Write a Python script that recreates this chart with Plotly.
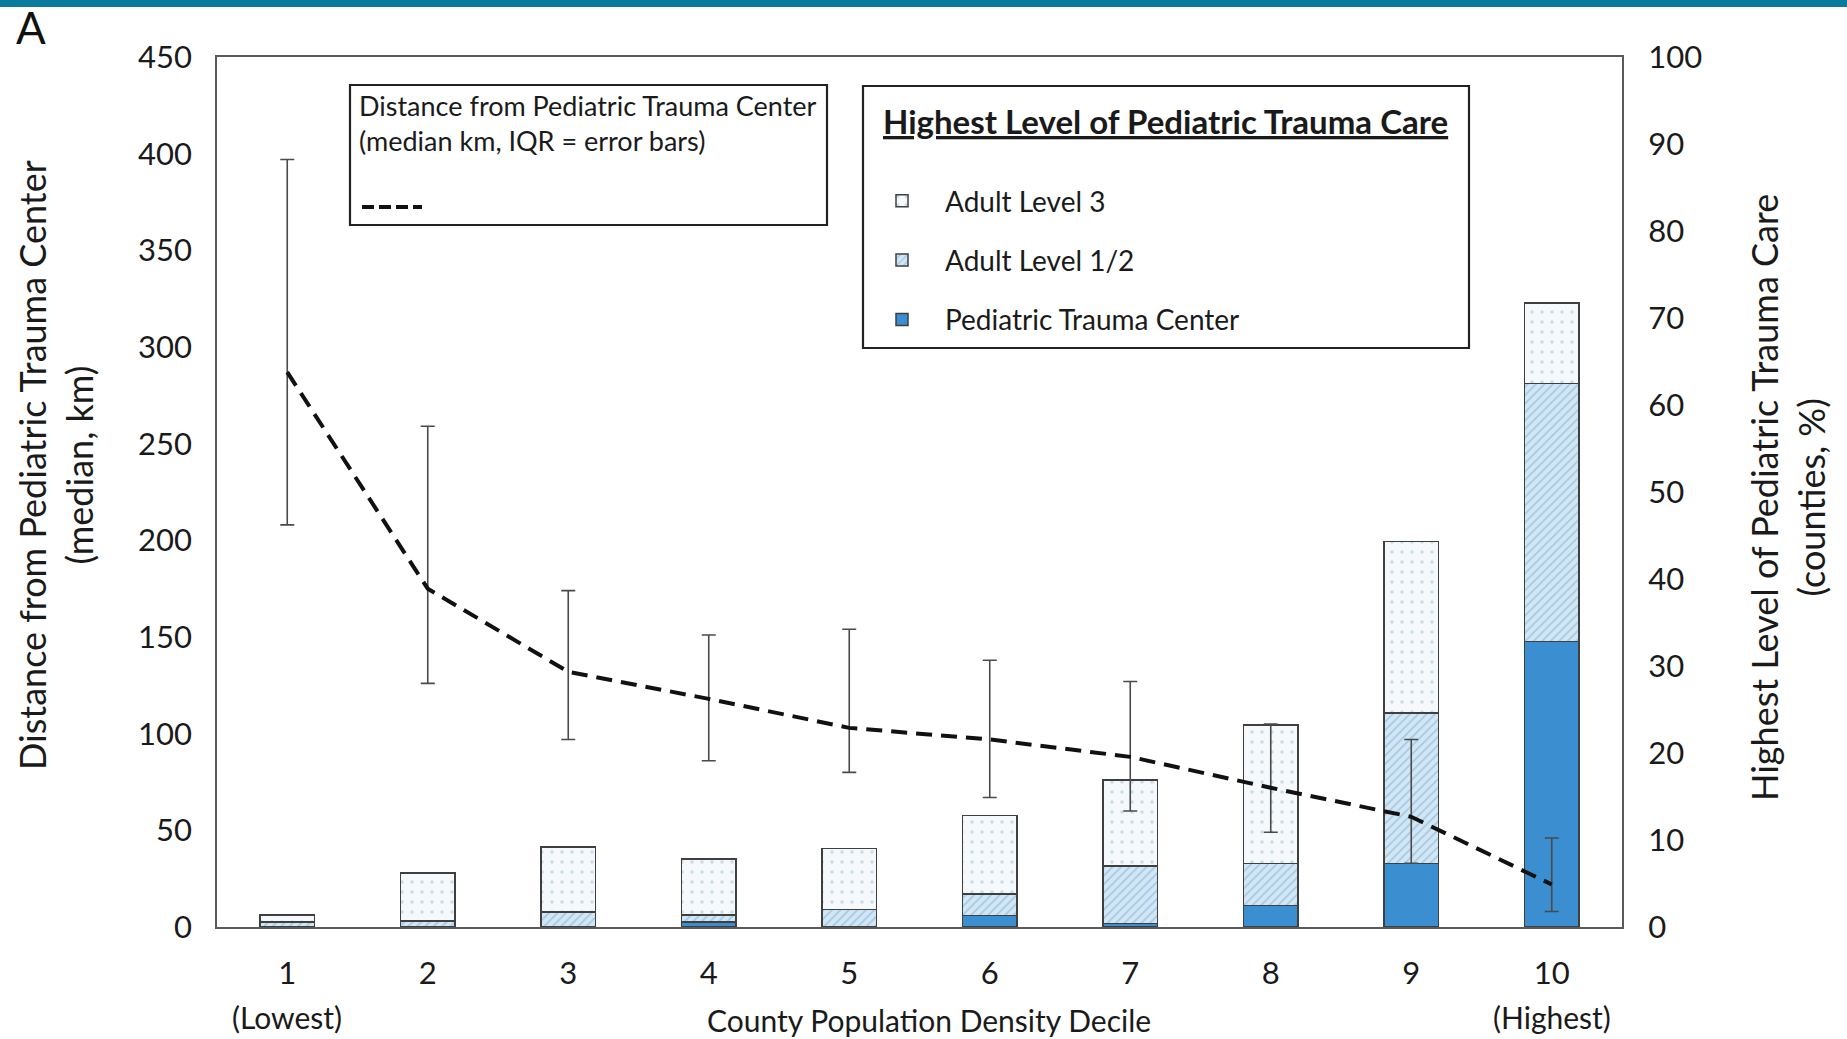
import plotly.graph_objects as go

# County population density deciles
deciles = [1, 2, 3, 4, 5, 6, 7, 8, 9, 10]
tick_labels = ["1", "2", "3", "4", "5", "6", "7", "8", "9", "10"]
end_labels = ["(Lowest)", "(Highest)"]

# Highest level of pediatric trauma care (% of counties)
pediatric_tc = [0.0, 0.0, 0.0, 0.6, 0.0, 1.3, 0.4, 2.5, 7.3, 32.8]
adult_level_12 = [0.6, 0.7, 1.7, 0.8, 2.0, 2.5, 6.6, 4.8, 17.3, 29.7]
adult_level_3 = [0.8, 5.5, 7.5, 6.4, 7.0, 9.0, 9.9, 15.9, 19.7, 9.2]

# Distance from pediatric trauma center (median km with IQR)
dist_median = [287, 175, 132, 118, 103, 97, 88, 72, 57, 22]
dist_q1 = [208, 126, 97, 86, 80, 67, 60, 49, 33, 8]
dist_q3 = [397, 259, 174, 151, 154, 138, 127, 105, 97, 46]

FONT = "Lato"
INK = "#1a1a1a"
EDGE = "#3f3f3f"

W, H = 1847, 1039
L, R, T, B = 217, 225, 57, 112
PW, PH = W - L - R, H - T - B


def px(xp):
    return (xp - L) / PW


def py(yp):
    return (H - B - yp) / PH


fig = go.Figure()

# stacked bars on the right-hand percentage axis
fig.add_trace(go.Bar(
    x=deciles, y=pediatric_tc, name="Pediatric Trauma Center",
    marker=dict(color="#3b8ed0", line=dict(color=EDGE, width=1.5)),
    width=0.39, legendgroup="c", legendrank=3, yaxis="y",
))
fig.add_trace(go.Bar(
    x=deciles, y=adult_level_12, name="Adult Level 1/2",
    marker=dict(color="#cfe3f2", line=dict(color=EDGE, width=1.5),
                pattern=dict(shape="/", bgcolor="#d3e6f4", fgcolor="#76acd6",
                             size=6, solidity=0.3, fillmode="overlay")),
    width=0.39, legendgroup="b", legendrank=2, yaxis="y",
))
fig.add_trace(go.Bar(
    x=deciles, y=adult_level_3, name="Adult Level 3",
    marker=dict(color="#f5f9fc", line=dict(color=EDGE, width=1.5),
                pattern=dict(shape=".", bgcolor="#f5f9fc", fgcolor="#9fbdd3",
                             size=10, solidity=0.1, fillmode="overlay")),
    width=0.39, legendgroup="a", legendrank=1, yaxis="y",
))

# median distance with IQR error bars on the left-hand km axis
err_plus = [q3 - m for q3, m in zip(dist_q3, dist_median)]
err_minus = [m - q1 for q1, m in zip(dist_q1, dist_median)]
fig.add_trace(go.Scatter(
    x=deciles, y=dist_median, mode="lines", yaxis="y2", showlegend=False,
    line=dict(color="#111111", width=4, dash="16px,9px"),
    error_y=dict(type="data", array=err_plus, arrayminus=err_minus,
                 color="#4a4a4a", thickness=1.6, width=7),
))

axis_font = dict(family=FONT, size=31, color=INK)
xtitle_font = dict(family=FONT, size=30, color=INK)

fig.update_layout(
    width=W, height=H,
    margin=dict(l=L, r=R, t=T, b=B),
    paper_bgcolor="white", plot_bgcolor="white",
    barmode="stack",
    xaxis=dict(range=[0.5, 10.5], tickvals=deciles, ticktext=tick_labels,
               tickfont=axis_font, showgrid=False, zeroline=False,
               showline=True, mirror=True, linecolor="#5a5a5a", linewidth=2,
               ticks="", ticklabelstandoff=18),
    yaxis=dict(range=[0, 100], dtick=10, side="right", tickfont=axis_font,
               showgrid=False, zeroline=False, showline=True, mirror=True,
               linecolor="#5a5a5a", linewidth=2, ticks="", ticklabelstandoff=18),
    yaxis2=dict(range=[0, 450], dtick=50, side="left", overlaying="y",
                tickfont=axis_font, showgrid=False, zeroline=False,
                showline=False, ticks="", ticklabelstandoff=24),
    legend=dict(
        x=px(859), y=py(176), xanchor="left", yanchor="top",
        bgcolor="rgba(0,0,0,0)", borderwidth=0,
        font=dict(family=FONT, size=28, color=INK),
        traceorder="grouped", tracegroupgap=20, itemwidth=76,
    ),
    showlegend=True,
)

shapes = [
    # band across the top of the figure
    dict(type="rect", xref="paper", yref="paper", x0=px(0), x1=px(W),
         y0=py(7), y1=py(0), fillcolor="#0a7b9c", line=dict(width=0)),
    # distance key box
    dict(type="rect", xref="paper", yref="paper", x0=px(350), x1=px(827),
         y0=py(225), y1=py(85), line=dict(color="#222222", width=2.2),
         fillcolor="white", layer="below"),
    dict(type="line", xref="paper", yref="paper", x0=px(362), x1=px(422),
         y0=py(207), y1=py(207), line=dict(color="#111111", width=4, dash="12px,5px")),
    # care level key box
    dict(type="rect", xref="paper", yref="paper", x0=px(863), x1=px(1469),
         y0=py(348), y1=py(86), line=dict(color="#222222", width=2.2),
         fillcolor="rgba(0,0,0,0)"),
]
fig.update_layout(shapes=shapes)

text_font = dict(family=FONT, size=27, color=INK)
title_font = dict(family=FONT, size=36, color=INK)
annotations = [
    dict(text="A", x=px(14), y=py(27), xanchor="left", yanchor="middle",
         font=dict(family=FONT, size=44, color="#111111")),
    dict(text="Distance from Pediatric Trauma Center", x=px(357), y=py(106),
         xanchor="left", yanchor="middle", font=text_font),
    dict(text="(median km, IQR = error bars)", x=px(357), y=py(141),
         xanchor="left", yanchor="middle", font=text_font),
    dict(text="Highest Level of Pediatric Trauma Care", x=px(881), y=py(121),
         xanchor="left", yanchor="middle",
         font=dict(family=FONT, size=33, color=INK, weight="bold",
                   lineposition="under")),
    dict(text="Distance from Pediatric Trauma Center<br>(median, km)",
         x=px(55), y=py(465), textangle=-90, xanchor="center", yanchor="middle",
         font=title_font),
    dict(text="Highest Level of Pediatric Trauma Care<br>(counties, %)",
         x=px(1787), y=py(498), textangle=-90, xanchor="center", yanchor="middle",
         font=title_font),
    dict(text="County Population Density Decile", x=px(929), y=py(1020),
         xanchor="center", yanchor="middle", font=xtitle_font),
]
for xv, lab in zip([deciles[0], deciles[-1]], end_labels):
    annotations.append(dict(text=lab, x=xv, xref="x", y=py(1017), yref="paper",
                            xanchor="center", yanchor="middle", font=xtitle_font))
for a in annotations:
    a.setdefault("xref", "paper")
    a.setdefault("yref", "paper")
    a["showarrow"] = False
fig.update_layout(annotations=annotations)

fig.write_html("out.html")
